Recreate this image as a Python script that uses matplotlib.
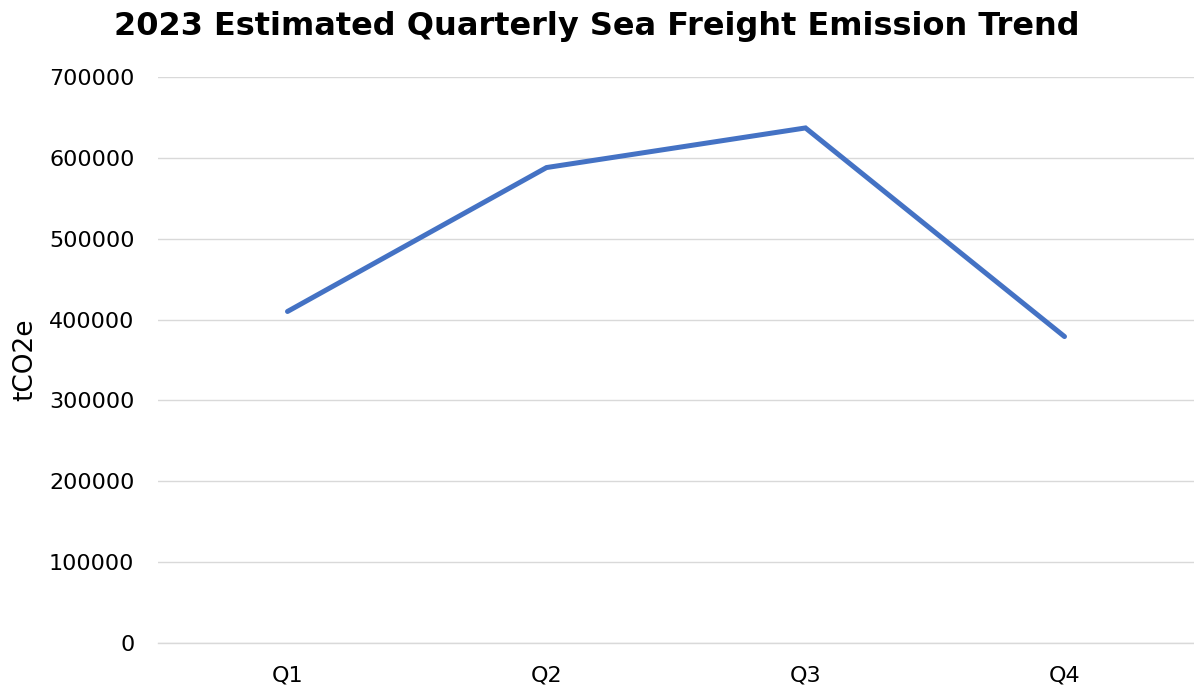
import matplotlib
matplotlib.use("Agg")
import matplotlib.pyplot as plt

quarters = ["Q1", "Q2", "Q3", "Q4"]
emissions = [410000, 588000, 637000, 379000]
yticks = [0, 100000, 200000, 300000, 400000, 500000, 600000, 700000]

plt.rcParams['font.family'] = ['DejaVu Sans']

fig = plt.figure(figsize=(11.94, 6.92), dpi=100)
ax = fig.add_axes([158/1194, 1 - 643/692, (1194 - 158)/1194, (643 - 77)/692])

x = list(range(len(quarters)))
ax.plot(x, emissions, color="#4472C4", linewidth=3.6, solid_capstyle="round",
        solid_joinstyle="miter", zorder=3)

ax.set_xlim(-0.5, len(quarters) - 0.5)
ax.set_ylim(0, 700000)
ax.set_yticks(yticks)
ax.set_yticklabels([str(v) for v in yticks])
ax.set_xticks(x)
ax.set_xticklabels(quarters)

ax.grid(axis="y", color="#D9D9D9", linewidth=1.0)
ax.axhline(0, color="#D9D9D9", linewidth=1.0, clip_on=False, zorder=1)
ax.set_axisbelow(True)
for s in ax.spines.values():
    s.set_visible(False)
ax.tick_params(axis="both", length=0, labelsize=16, colors="black")
ax.tick_params(axis="y", pad=17)
ax.tick_params(axis="x", pad=16)

ax.set_ylabel("tCO2e", fontsize=19, labelpad=8)
fig.text(0.5, 0.962, "2023 Estimated Quarterly Sea Freight Emission Trend",
         ha="center", va="center", fontsize=23, fontweight="bold")

fig.savefig("out.png", dpi=100)
